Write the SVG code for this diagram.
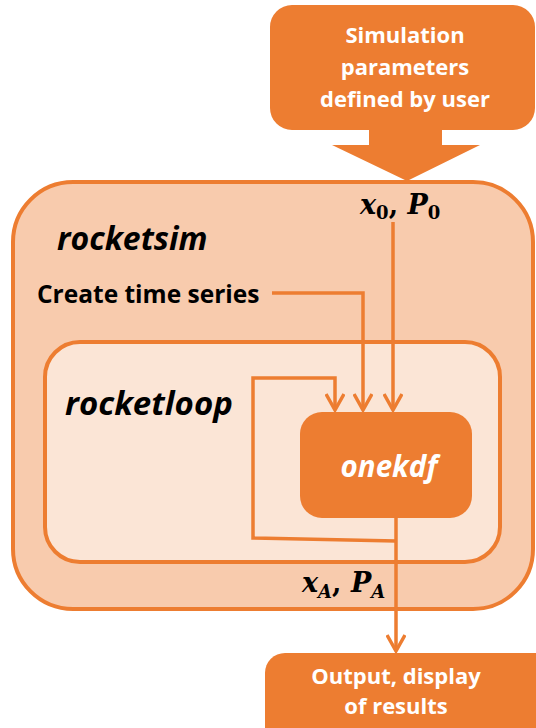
<svg xmlns="http://www.w3.org/2000/svg" width="536" height="728" viewBox="0 0 536 728">
<style>
.box{stroke:#ED7D31;stroke-width:4}
.solid{fill:#ED7D31}
.conn{fill:none;stroke:#ED7D31;stroke-width:3.5}
.wt{font-family:"Open Sans","Liberation Sans",sans-serif;font-weight:bold;fill:#fff;text-anchor:middle}
.bk{font-family:"Open Sans","Liberation Sans",sans-serif;font-weight:bold;fill:#000}
.m{font-family:"DejaVu Serif","Liberation Serif",serif;font-weight:bold;fill:#000}
</style>
<defs>
<marker id="ah" viewBox="0 0 20 20" refX="18" refY="10" markerWidth="20" markerHeight="20" markerUnits="userSpaceOnUse" orient="auto">
<path d="M2,1 L18,10 L2,19" fill="none" stroke="#ED7D31" stroke-width="3.5"/>
</marker>
</defs>
<g id="rocketsim">
<rect class="box" x="13" y="182" width="520" height="427" rx="60" fill="#F8CBAD"/>
<text class="bk" x="57" y="250" font-size="32" font-style="italic">rocketsim</text>
<text class="bk" x="37" y="303" font-size="24.5">Create time series</text>
<text class="m" x="360" y="214" font-size="27"><tspan font-style="italic">x</tspan><tspan font-size="18" dy="5">0</tspan><tspan dy="-5">, </tspan><tspan font-style="italic">P</tspan><tspan font-size="18" dy="5">0</tspan></text>
<text class="m" x="302" y="592" font-size="27"><tspan font-style="italic">x</tspan><tspan font-size="18" dy="6" font-style="italic">A</tspan><tspan dy="-6">, </tspan><tspan font-style="italic">P</tspan><tspan font-size="18" dy="6" font-style="italic">A</tspan></text>
</g>
<g id="rocketloop">
<rect class="box" x="45" y="342" width="455" height="220" rx="35" fill="#FBE5D6"/>
<text class="bk" x="65" y="415" font-size="33" font-style="italic">rocketloop</text>
</g>
<g id="params">
<path class="solid" d="M292,5 H513 A22,22 0 0 1 535,27 V108 A22,22 0 0 1 513,130 H442 V145 H480 L407,181 L332,145 H369 V130 H292 A22,22 0 0 1 270,108 V27 A22,22 0 0 1 292,5 Z"/>
<text class="wt" x="405" y="43" font-size="22">Simulation</text>
<text class="wt" x="405" y="75" font-size="22">parameters</text>
<text class="wt" x="405" y="107" font-size="22">defined by user</text>
</g>
<g id="onekdf">
<rect class="solid" x="300" y="412" width="172" height="106" rx="22"/>
<text class="wt" x="389" y="477" font-size="29.5" font-style="italic">onekdf</text>
</g>
<g id="output">
<rect class="solid" x="265" y="653" width="290" height="100" rx="20"/>
<text class="wt" x="396" y="684" font-size="22">Output, display</text>
<text class="wt" x="396" y="714" font-size="22">of results</text>
</g>
<g id="connectors">
<path class="conn" d="M393,222 V410" marker-end="url(#ah)"/>
<path class="conn" d="M272,293 H363 V410" marker-end="url(#ah)"/>
<path class="conn" d="M396,541 L253,538 V378 H335 V410" marker-end="url(#ah)"/>
<path class="conn" d="M396,518 V651" marker-end="url(#ah)"/>
</g>
</svg>
